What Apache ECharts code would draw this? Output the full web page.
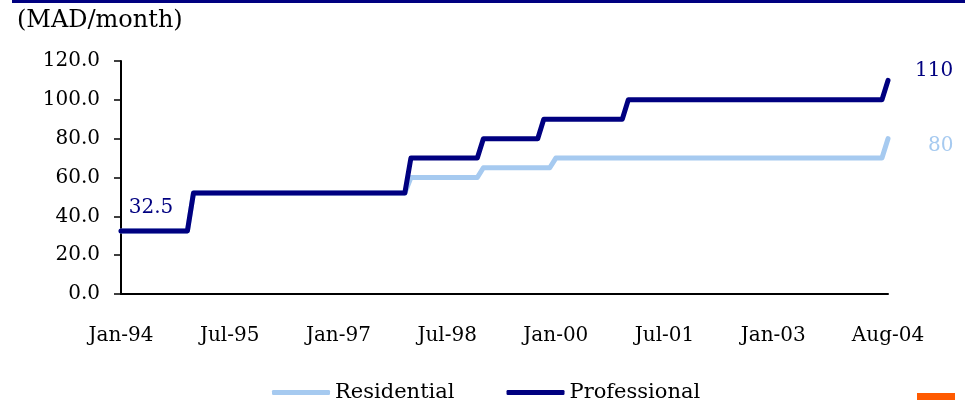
<!DOCTYPE html>
<html>
<head>
<meta charset="utf-8">
<script src="https://cdn.jsdelivr.net/npm/echarts@6/dist/echarts.min.js"></script>
<style>
  html, body { margin: 0; padding: 0; background: #fff; }
  #chart { width: 965px; height: 400px; }
</style>
</head>
<body>
<div id="chart"></div>
<script>
// Monthly tariff (MAD/month), Jan-94 .. Aug-04
const MONTHS = ['Jan', 'Feb', 'Mar', 'Apr', 'May', 'Jun', 'Jul', 'Aug', 'Sep', 'Oct', 'Nov', 'Dec'];
const FIRST_YEAR = 1994;
const LAST_YEAR = 2004;
const LAST_MONTH = 7; // Aug

const categories = [];
for (let y = FIRST_YEAR; y <= LAST_YEAR; y++) {
  for (let m = 0; m < 12; m++) {
    if (y === LAST_YEAR && m > LAST_MONTH) break;
    categories.push(MONTHS[m] + '-' + String(y).slice(2));
  }
}

// Axis labels shown along the time axis
const tickLabels = ['Jan-94', 'Jul-95', 'Jan-97', 'Jul-98', 'Jan-00', 'Jul-01', 'Jan-03', 'Aug-04'];

const residential = [
  32.5, 32.5, 32.5, 32.5, 32.5, 32.5, 32.5, 32.5, 32.5, 32.5, 32.5, 32.5, // 1994
  52, 52, 52, 52, 52, 52, 52, 52, 52, 52, 52, 52,                         // 1995
  52, 52, 52, 52, 52, 52, 52, 52, 52, 52, 52, 52,                         // 1996
  52, 52, 52, 52, 52, 52, 52, 52, 52, 52, 52, 52,                         // 1997
  60, 60, 60, 60, 60, 60, 60, 60, 60, 60, 60, 60,                         // 1998
  65, 65, 65, 65, 65, 65, 65, 65, 65, 65, 65, 65,                         // 1999
  70, 70, 70, 70, 70, 70, 70, 70, 70, 70, 70, 70,                         // 2000
  70, 70, 70, 70, 70, 70, 70, 70, 70, 70, 70, 70,                         // 2001
  70, 70, 70, 70, 70, 70, 70, 70, 70, 70, 70, 70,                         // 2002
  70, 70, 70, 70, 70, 70, 70, 70, 70, 70, 70, 70,                         // 2003
  70, 70, 70, 70, 70, 70, 70, 80                                          // 2004
];

const professional = [
  32.5, 32.5, 32.5, 32.5, 32.5, 32.5, 32.5, 32.5, 32.5, 32.5, 32.5, 32.5, // 1994
  52, 52, 52, 52, 52, 52, 52, 52, 52, 52, 52, 52,                         // 1995
  52, 52, 52, 52, 52, 52, 52, 52, 52, 52, 52, 52,                         // 1996
  52, 52, 52, 52, 52, 52, 52, 52, 52, 52, 52, 52,                         // 1997
  70, 70, 70, 70, 70, 70, 70, 70, 70, 70, 70, 70,                         // 1998
  80, 80, 80, 80, 80, 80, 80, 80, 80, 80, 90, 90,                         // 1999
  90, 90, 90, 90, 90, 90, 90, 90, 90, 90, 90, 90,                         // 2000
  100, 100, 100, 100, 100, 100, 100, 100, 100, 100, 100, 100,             // 2001
  100, 100, 100, 100, 100, 100, 100, 100, 100, 100, 100, 100,             // 2002
  100, 100, 100, 100, 100, 100, 100, 100, 100, 100, 100, 100,             // 2003
  100, 100, 100, 100, 100, 100, 100, 110                                  // 2004
];

const SERIES_NAMES = ['Residential', 'Professional'];
const UNIT_LABEL = '(MAD/month)';

const FONT = '"DejaVu Serif", "Liberation Serif", serif';
const NAVY = '#000080';
const LIGHT = '#a6caf0';
const lastIdx = categories.length - 1;

const chart = echarts.init(document.getElementById('chart'), null, { renderer: 'canvas' });

function valueMark(idx, val, color, offset, align) {
  return {
    coord: [idx, val],
    value: val,
    symbol: 'circle',
    symbolSize: 0,
    label: {
      show: true,
      position: 'inside',
      offset: offset,
      align: align,
      verticalAlign: 'middle',
      formatter: () => String(val),
      color: color,
      fontFamily: FONT,
      fontSize: 20
    }
  };
}

chart.setOption({
  animation: false,
  backgroundColor: '#fff',
  title: {
    text: UNIT_LABEL,
    left: 17,
    top: 9,
    padding: 0,
    textStyle: { fontFamily: FONT, fontSize: 24, fontWeight: 'normal', color: '#000' }
  },
  grid: { left: 121, right: 77, top: 61, bottom: 106, containLabel: false },
  legend: {
    data: SERIES_NAMES,
    left: 267,
    top: 377,
    itemWidth: 58,
    itemHeight: 5,
    itemGap: 52,
    icon: 'roundRect',
    textStyle: { fontFamily: FONT, fontSize: 21, color: '#000' }
  },
  xAxis: {
    type: 'category',
    data: categories,
    boundaryGap: false,
    axisLine: { show: true, lineStyle: { color: '#000', width: 2 } },
    axisTick: { show: false },
    axisLabel: {
      interval: (i, v) => tickLabels.indexOf(v) !== -1,
      margin: 32,
      fontFamily: FONT,
      fontSize: 20,
      color: '#000'
    },
    splitLine: { show: false }
  },
  yAxis: {
    type: 'value',
    min: 0,
    max: 120,
    interval: 20,
    axisLine: { show: true, lineStyle: { color: '#000', width: 2 } },
    axisTick: { show: true, length: 7, lineStyle: { color: '#000', width: 1.5 } },
    axisLabel: {
      margin: 21,
      formatter: (v) => v.toFixed(1),
      fontFamily: FONT,
      fontSize: 20,
      color: '#000'
    },
    splitLine: { show: false }
  },
  series: [
    {
      name: SERIES_NAMES[0],
      type: 'line',
      data: residential,
      showSymbol: false,
      color: LIGHT,
      lineStyle: { color: LIGHT, width: 5, cap: 'round', join: 'round' },
      z: 2,
      markPoint: {
        data: [valueMark(lastIdx, residential[lastIdx], LIGHT, [40, 7], 'left')]
      }
    },
    {
      name: SERIES_NAMES[1],
      type: 'line',
      data: professional,
      showSymbol: false,
      color: NAVY,
      lineStyle: { color: NAVY, width: 5, cap: 'round', join: 'round' },
      z: 3,
      markPoint: {
        data: [
          valueMark(lastIdx, professional[lastIdx], NAVY, [27, -10], 'left'),
          valueMark(0, professional[0], NAVY, [30, -23], 'center')
        ]
      }
    }
  ],
  graphic: [
    {
      type: 'rect',
      left: 12, top: 0,
      shape: { width: 953, height: 3 },
      style: { fill: NAVY },
      silent: true
    },
    {
      type: 'rect',
      left: 917, top: 393,
      shape: { width: 38, height: 7 },
      style: { fill: '#ff5a00' },
      silent: true
    }
  ]
});
</script>
</body>
</html>
